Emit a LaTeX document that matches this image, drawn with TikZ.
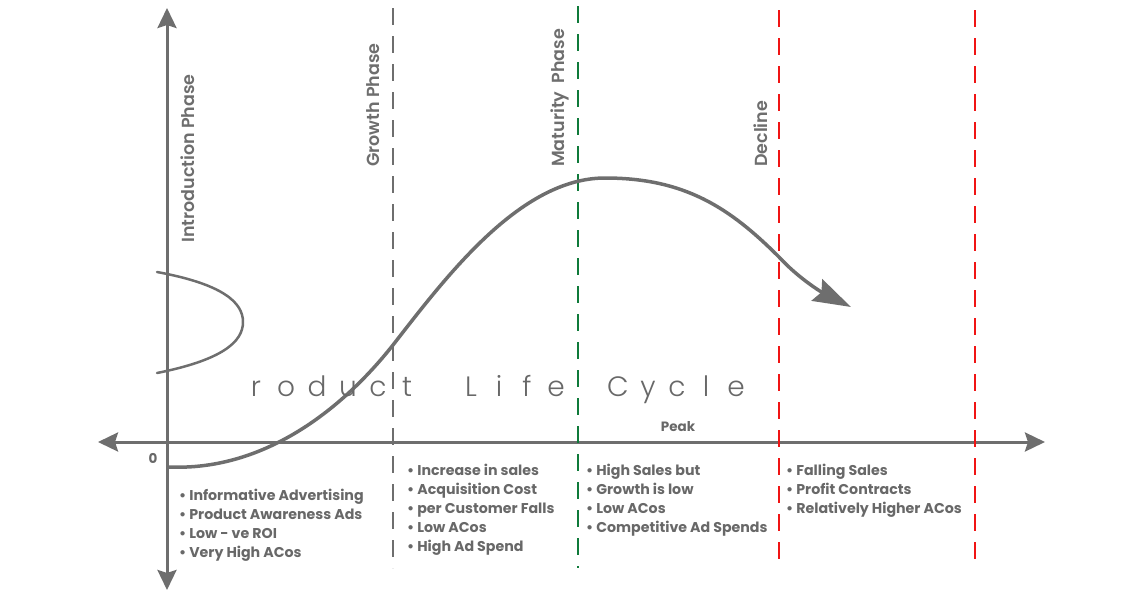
\documentclass[tikz,border=0pt]{standalone}
\usepackage{fontspec}
\setmainfont{Poppins}
\newfontfamily\thinfont{Poppins Light}
\newfontfamily\medfont{Poppins SemiBold}
\usetikzlibrary{arrows.meta}
\definecolor{axgray}{HTML}{6E6E6E}
\definecolor{txtgray}{HTML}{686868}
\definecolor{phgreen}{HTML}{0F7A3A}
\definecolor{phred}{HTML}{F01414}
\tikzset{
  axis/.style={line width=3pt, draw=axgray, {Stealth[length=20pt,width=19pt,inset=3pt]}-{Stealth[length=20pt,width=19pt,inset=3pt]}},
  phaseline/.style={line width=2pt, line cap=butt, dash pattern=on 17pt off 11pt},
  phaselabel/.style={rotate=90, anchor=west, text=axgray, font=\medfont\fontsize{17.5}{20}\selectfont, inner sep=0pt},
  bullets/.style={anchor=north west, align=left, text=txtgray, font=\bfseries\fontsize{14.2}{19}\selectfont, inner sep=0pt},
  smalllbl/.style={text=txtgray, font=\bfseries\fontsize{13.5}{15}\selectfont, inner sep=0pt},
}
\begin{document}
\begin{tikzpicture}[x=1pt, y=-1pt, line join=round, line cap=round]
\useasboundingbox (0,0) rectangle (1144,595);
\path (167,8) coordinate (Ytop)
      (167,590) coordinate (Ybot)
      (98,442) coordinate (Xl)
      (1045,442) coordinate (Xr)
      (169,467) coordinate (S)
      (393,345) coordinate (G)
      (605,178) coordinate (M)
      (779,257) coordinate (D)
      (851,307) coordinate (E)
      (157,272) coordinate (P1)
      (243,322) coordinate (P2)
      (157,373) coordinate (P3);
% axes
\draw[axis] (Ybot)--(Ytop);
\draw[axis] (Xl)--(Xr);
% phase lines
\draw[phaseline, axgray] (393,8)--(393,568);
\draw[phaseline, phgreen] (578,6)--(578,568);
\draw[phaseline, phred] (779,10)--(779,568);
\draw[phaseline, phred] (975,10)--(975,568);
% P of product
\draw[line width=2.5pt, axgray] (P1) .. controls (222,284) and (243,302) .. (P2)
      .. controls (243,342) and (222,360) .. (P3);
% life cycle curve
\draw[line width=3.5pt, axgray, -{Stealth[length=38pt,width=24pt,inset=5pt]}]
  (S) .. controls (262,471) and (340,412) .. (G)
      .. controls (446,277) and (520,178) .. (M)
      .. controls (685,178) and (730,208) .. (D)
      .. controls (800,280) and (825,294) .. (E);
% labels
\node[phaselabel] (intro) at (188,243) {Introduction Phase};
\node[phaselabel] (growth) at (373,167) {Growth Phase};
\node[phaselabel] (matur) at (560,167) {Maturity\ \ Phase};
\node[phaselabel] (decl) at (761,167) {Decline};
\node[smalllbl] (zero) at (153,458) {0};
\node[smalllbl] (peak) at (678,427) {Peak};
\foreach \ch/\xx [count=\i] in {r/256,o/286,d/317,u/348,c/378,t/407,L/471,i/499,f/527,e/556,C/618,y/648,c/677,l/706,e/736}
  \node[text=txtgray, font=\thinfont\fontsize{28}{30}\selectfont, inner sep=0pt, anchor=base] (ltr\i) at (\xx,396) {\ch};
\node[bullets] (intro list) at (179,489) {\textbullet\ Informative Advertising\\ \textbullet\ Product Awareness Ads\\ \textbullet\ Low - ve ROI\\ \textbullet\ Very High ACos};
\node[bullets] (growth list) at (407,464) {\textbullet\ Increase in sales\\ \textbullet\ Acquisition Cost\\ \textbullet\ per Customer Falls\\ \textbullet\ Low ACos\\ \textbullet\ High Ad Spend};
\node[bullets] (matur list) at (586,464) {\textbullet\ High Sales but\\ \textbullet\ Growth is low\\ \textbullet\ Low ACos\\ \textbullet\ Competitive Ad Spends};
\node[bullets] (decl list) at (786,464) {\textbullet\ Falling Sales\\ \textbullet\ Profit Contracts\\ \textbullet\ Relatively Higher ACos};
\end{tikzpicture}
\end{document}
